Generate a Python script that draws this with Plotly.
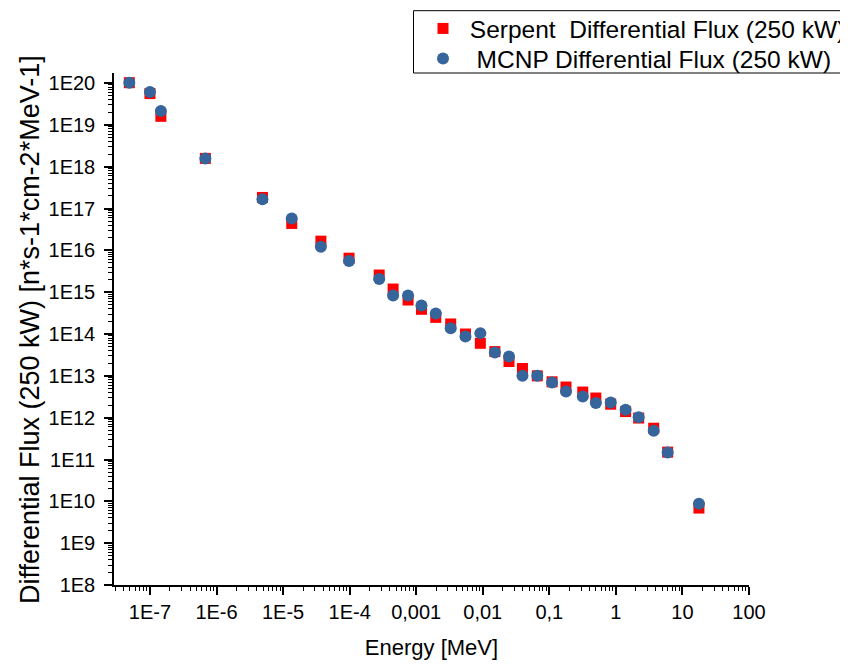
import plotly.graph_objects as go

energy = [4.9e-8, 1.0e-7, 1.46e-7, 6.8e-7, 4.9e-6, 1.35e-5, 3.7e-5, 9.8e-5, 2.78e-4, 4.5e-4,
          7.55e-4, 1.2e-3, 1.97e-3, 3.3e-3, 5.5e-3, 9.2e-3, 1.52e-2, 2.48e-2, 3.95e-2, 6.6e-2,
          0.11, 0.178, 0.318, 0.5, 0.836, 1.4, 2.2, 3.7, 6.0, 17.7]
serpent = [1.02e20, 5.6e19, 1.6e19, 1.58e18, 1.84e17, 4.4e16, 1.66e16, 6.5e15, 2.57e15, 1.19e15,
           6.5e14, 3.9e14, 2.5e14, 1.74e14, 1.0e14, 6.0e13, 3.8e13, 2.2e13, 1.5e13, 1.0e13,
           7.2e12, 5.4e12, 4.1e12, 2.95e12, 2.1e12, 1.4e12, 9.8e11, 5.6e11, 1.5e11, 6.9e9]
mcnp = [1.02e20, 6.1e19, 2.15e19, 1.58e18, 1.66e17, 5.8e16, 1.22e16, 5.6e15, 2.07e15, 8.3e14,
        8.3e14, 4.8e14, 3.1e14, 1.38e14, 8.7e13, 1.05e14, 3.6e13, 2.9e13, 1.0e13, 1.0e13,
        6.9e12, 4.2e12, 3.2e12, 2.24e12, 2.3e12, 1.55e12, 1.03e12, 4.9e11, 1.48e11, 8.8e9]

x_tickvals = [1e-7, 1e-6, 1e-5, 1e-4, 1e-3, 1e-2, 1e-1, 1, 10, 100]
x_ticktext = ["1E-7", "1E-6", "1E-5", "1E-4", "0,001", "0,01", "0,1", "1", "10", "100"]
y_tickvals = [10.0 ** k for k in range(8, 21)]
y_ticktext = ["1E%d" % k for k in range(8, 21)]

serpent_name = "\u00a0Serpent\u00a0 Differential Flux (250 kW)"
mcnp_name = "\u00a0\u00a0MCNP Differential Flux (250 kW)"
x_title = "Energy [MeV]"
y_title = "Differential Flux (250 kW) [n*s-1*cm-2*MeV-1]"

FONT = "Liberation Sans, Arial, sans-serif"

# page body has an 8px margin; plot area target (screen): x 114..749, y 73..585
L, T, PW, PH = 106, 65, 635, 512
W, H = 848, 664

fig = go.Figure()
fig.add_trace(go.Scatter(
    x=energy, y=serpent, mode="markers", name=serpent_name, legend="legend",
    marker=dict(symbol="square", size=11, color="#FF0000", line=dict(width=0)),
    error_y=dict(type="percent", value=6, color="#B03A48", thickness=1, width=5),
))
fig.add_trace(go.Scatter(
    x=energy, y=mcnp, mode="markers", name=mcnp_name, legend="legend2",
    marker=dict(symbol="circle", size=12, color="#35659B", line=dict(width=0)),
    error_y=dict(type="percent", value=6, color="#8A3A55", thickness=1, width=5),
))

def px_x(sx):
    return (sx - 114) / PW

def px_y(sy):
    return (585 - sy) / PH

leg_common = dict(
    xanchor="left", yanchor="middle",
    borderwidth=0, bgcolor="rgba(0,0,0,0)",
    font=dict(family=FONT, size=24.5, color="black"),
    itemwidth=30,
)

fig.update_layout(
    width=W, height=H,
    margin=dict(l=L, r=W - L - PW, t=T, b=H - T - PH, autoexpand=False),
    paper_bgcolor="white", plot_bgcolor="white",
    font=dict(family=FONT, size=20, color="black"),
    showlegend=True,
    legend=dict(x=px_x(423), y=px_y(28.5), **leg_common),
    legend2=dict(x=px_x(423), y=px_y(58.5), **leg_common),
    shapes=[dict(type="rect", xref="paper", yref="paper",
                 x0=px_x(413.5), x1=px_x(846.5), y0=px_y(73), y1=px_y(10.7),
                 line=dict(color="black", width=1), fillcolor="rgba(0,0,0,0)", layer="above")],
    annotations=[dict(text=y_title, textangle=-90, xref="paper", yref="paper",
                      x=px_x(30), y=px_y(330), xanchor="center", yanchor="middle",
                      showarrow=False, font=dict(family=FONT, size=27, color="black"))],
)

fig.update_xaxes(
    type="log", range=[-7.54, 2.0], automargin=False,
    tickvals=x_tickvals, ticktext=x_ticktext,
    ticks="outside", ticklen=8, tickwidth=1.5, tickcolor="black",
    showline=True, linecolor="black", linewidth=1.5, mirror=False,
    showgrid=False, zeroline=False,
    tickfont=dict(family=FONT, size=20),
    minor=dict(ticks="outside", ticklen=4, tickwidth=1, tickcolor="black", dtick="D1", showgrid=False),
    title=dict(text=x_title, font=dict(family=FONT, size=22), standoff=18),
)
fig.update_yaxes(
    type="log", range=[8, 20.24], automargin=False,
    tickvals=y_tickvals, ticktext=y_ticktext,
    ticks="outside", ticklen=8, tickwidth=1.5, tickcolor="black",
    showline=True, linecolor="black", linewidth=1.5, mirror=False,
    showgrid=False, zeroline=False, ticklabelstandoff=5,
    tickfont=dict(family=FONT, size=20),
    minor=dict(ticks="outside", ticklen=4, tickwidth=1, tickcolor="black", dtick="D1", showgrid=False),
)

fig.write_html("out.html")
